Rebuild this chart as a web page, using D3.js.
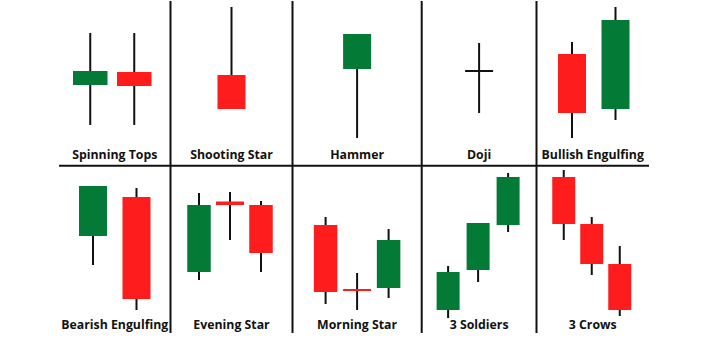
<!DOCTYPE html>
<html>
<head>
<meta charset="utf-8">
<script src="https://cdn.jsdelivr.net/npm/d3@7"></script>
<style>
  html, body { margin: 0; padding: 0; background: #fff; }
</style>
</head>
<body>
<div id="chart"></div>
<script>
(function() {

  let width  = 720,
      height = 340;

  // pattern names, top row then bottom row
  let patternNames = ["Spinning Tops", "Shooting Star", "Hammer", "Doji", "Bullish Engulfing",
                      "Bearish Engulfing", "Evening Star", "Morning Star", "3 Soldiers", "3 Crows"];

  // every candle is [open, high, low, close]
  let spinningTops     = [[80, 132, 40, 94], [93, 132, 40, 79]];
  let shootingStar     = [[90, 158, 56, 56]];
  let hammer           = [[96, 131, 27, 131]];
  let doji             = [[94, 122, 52, 94]];
  let bullishEngulfing = [[111, 123, 27, 52], [56, 158, 45, 145]];
  let bearishEngulfing = [[94, 144, 65, 144], [133, 142, 20, 31]];
  let eveningStar      = [[58, 137, 50, 125], [128.5, 138, 90, 125], [125, 129, 58, 77]];
  let morningStar      = [[105, 113, 26, 38], [40.5, 57, 20, 39.5], [42, 101, 32, 90]];
  let threeSoldiers    = [[20, 64, 12, 58], [60, 107, 48, 107], [105, 157, 98, 153]];
  let threeCrows       = [[153, 160, 90, 106], [106, 113, 55, 66], [66, 84, 14, 20]];

  let candles = [spinningTops, shootingStar, hammer, doji, bullishEngulfing,
                 bearishEngulfing, eveningStar, morningStar, threeSoldiers, threeCrows];

  // layout of the grid
  let panelEdges = [59, 170.5, 292.5, 421.7, 536.5, 649];
  let rowTops    = [0, 165];
  let rowHeight  = 165;
  let panelShift = [-2.5, 0, 0, 0, 1, 0, -1.5, 0, -1, -1];
  let panelStep  = [44, 0, 0, 0, 43.5, 43.5, 31, 31.5, 30, 28];
  let panelBody  = [34.5, 28, 28, 28, 28, 28, 23.5, 23.5, 23, 23];

  let green = "#037b37",
      red   = "#fe1c1c",
      ink   = "#111";

  let svg = d3.select("#chart")
    .append ("svg")
    .attr   ("width", width)
    .attr   ("height", height)
    .style  ("display", "block");

  // price -> pixel inside a row
  let y = d3.scaleLinear()
    .domain ([0, rowHeight])
    .range  ([rowHeight, 0]);

  // grid lines
  svg.append("line")
    .attr("x1", panelEdges[0]).attr("x2", panelEdges[panelEdges.length - 1])
    .attr("y1", rowHeight + 0.7).attr("y2", rowHeight + 0.7)
    .attr("stroke", ink).attr("stroke-width", 2);

  svg.selectAll(".divider")
    .data  (panelEdges.slice(1, -1))
    .enter ().append("line")
    .attr  ("class", "divider")
    .attr  ("x1", d => d).attr("x2", d => d)
    .attr  ("y1", 1).attr("y2", 333)
    .attr  ("stroke", ink).attr("stroke-width", 2);

  let panels = svg.selectAll(".panel")
    .data  (patternNames)
    .enter ().append("g")
    .attr  ("class", "panel")
    .attr  ("transform", (d, i) => `translate(0,${rowTops[Math.floor(i / 5)]})`);

  panels.each(function(name, i) {
    let g = d3.select(this);
    let col = i % 5;
    let cx = (panelEdges[col] + panelEdges[col + 1]) / 2;
    let mid = cx + panelShift[i];
    let data = candles[i];
    let n = data.length;
    let step = panelStep[i];

    let x = d3.scalePoint()
      .domain (d3.range(n))
      .range  ([mid - step * (n - 1) / 2, mid + step * (n - 1) / 2]);
    if (n === 1) x = () => mid;

    // wicks
    g.selectAll(".wick")
      .data  (data)
      .enter ().append("line")
      .attr  ("class", "wick")
      .attr  ("x1", (d, j) => x(j)).attr("x2", (d, j) => x(j))
      .attr  ("y1", d => y(d[1])).attr("y2", d => y(d[2]))
      .attr  ("stroke", ink).attr("stroke-width", 2);

    // bodies
    g.selectAll(".body")
      .data  (data)
      .enter ().append("rect")
      .attr  ("class", "body")
      .attr  ("x", (d, j) => {
        let w = Math.abs(d[0] - d[3]) < 5 ? 28 : panelBody[i];
        return x(j) - w / 2;
      })
      .attr  ("width", d => Math.abs(d[0] - d[3]) < 5 ? 28 : panelBody[i])
      .attr  ("y", d => {
        let h = Math.abs(y(d[0]) - y(d[3]));
        return h < 2 ? (y(d[0]) + y(d[3])) / 2 - 1 : y(Math.max(d[0], d[3]));
      })
      .attr  ("height", d => Math.max(2, Math.abs(y(d[0]) - y(d[3]))))
      .attr  ("fill", d => d[3] > d[0] ? green : (d[3] < d[0] ? red : ink));

    // label
    g.append("text")
      .attr  ("x", cx)
      .attr  ("y", i < 5 ? 159 : 164)
      .attr  ("text-anchor", "middle")
      .style ("font-family", "'Open Sans', sans-serif")
      .style ("font-weight", 700)
      .style ("font-size", "12.3px")
      .style ("fill", ink)
      .text  (name);
  });

})();
</script>
</body>
</html>
